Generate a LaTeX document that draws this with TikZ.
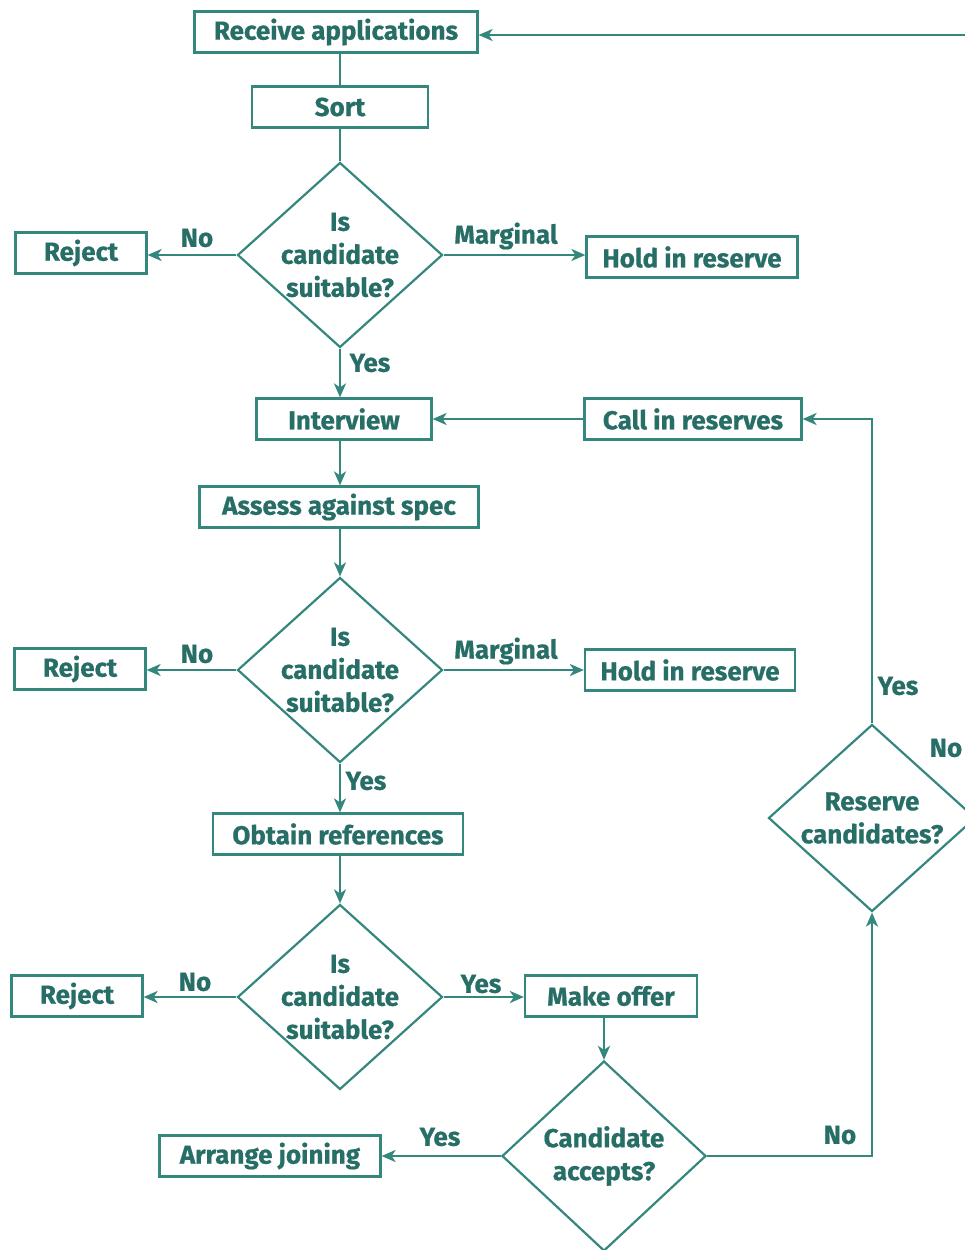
\documentclass[tikz,border=0pt]{standalone}
\usepackage{fontspec}
\setmainfont{Fira Sans}[BoldFeatures={FakeBold=0.6}]
\usetikzlibrary{shapes.geometric,arrows.meta}
\definecolor{flow}{RGB}{52,135,125}
\definecolor{ink}{RGB}{38,110,102}
\begin{document}
\begin{tikzpicture}[x=1pt,y=-1pt,
  txt/.style={text=ink,font=\bfseries\fontsize{26}{33}\selectfont},
  box/.style={txt,draw=flow,line width=2.2pt,minimum height=41pt,inner sep=0pt},
  dia/.style={draw=flow,line width=2.2pt,shape=diamond,minimum width=205pt,minimum height=185pt,inner sep=0pt},
  dtext/.style={txt,align=center},
  lbl/.style={txt,inner sep=0pt},
  conn/.style={draw=flow,line width=2.4pt},
  arr/.style={conn,-{Stealth[length=14pt,width=12pt,inset=4pt]}}]
\useasboundingbox (0,0) rectangle (965,1250);
\clip (0,0) rectangle (965,1250);
\fill[white] (0,0) rectangle (965,1250);

% process boxes
\node[box,minimum width=283pt] (recv) at (336,32) {Receive applications};
\node[box,minimum width=176pt] (sort) at (340,107) {Sort};
\node[box,minimum width=131pt] (rej1) at (81,253) {Reject};
\node[box,minimum width=211pt] (hold1) at (692,257) {Hold in reserve};
\node[box,minimum width=175pt] (intv) at (344,419) {Interview};
\node[box,minimum width=217pt] (call) at (693,419) {Call in reserves};
\node[box,minimum width=279pt] (assess) at (339,507) {Assess against spec};
\node[box,minimum width=131pt] (rej2) at (80,669) {Reject};
\node[box,minimum width=210pt] (hold2) at (690,670) {Hold in reserve};
\node[box,minimum width=250pt] (refs) at (338,834) {Obtain references};
\node[box,minimum width=131pt] (rej3) at (77,996) {Reject};
\node[box,minimum width=172pt] (offer) at (611,996) {Make offer};
\node[box,minimum width=221pt] (join) at (270,1156) {Arrange joining};

% decisions
\node[dia] (d1) at (340,255) {};
\node[dtext] at (d1) {Is\\candidate\\suitable?};
\node[dia] (d2) at (340,670) {};
\node[dtext] at (d2) {Is\\candidate\\suitable?};
\node[dia] (d3) at (340,997) {};
\node[dtext] at (d3) {Is\\candidate\\suitable?};
\node[dia,minimum width=204pt,minimum height=190pt] (d4) at (604,1156) {};
\node[dtext] at (d4) {Candidate\\accepts?};
\node[dia,minimum width=207pt,minimum height=187pt] (d5) at (872,818) {};
\node[dtext] at (d5) {Reserve\\candidates?};

\coordinate (back) at (995,35);

% connectors
\draw[conn] (recv.south -| sort) -- (sort);
\draw[conn] (sort) -- (d1);
\draw[arr] (d1.west) -- (d1.west -| rej1.east);
\draw[arr] (d1.east) -- (d1.east -| hold1.west);
\draw[arr] (d1) -- (intv.north -| d1.south);
\draw[arr] (call) -- (intv);
\draw[arr] (intv.south -| d1.south) -- (assess.north -| d1.south);
\draw[arr] (assess.south -| d2.north) -- (d2);
\draw[arr] (d2.west) -- (d2.west -| rej2.east);
\draw[arr] (d2.east) -- (d2.east -| hold2.west);
\draw[arr] (d2) -- (refs.north -| d2.south);
\draw[arr] (refs.south -| d3.north) -- (d3);
\draw[arr] (d3.west) -- (d3.west -| rej3.east);
\draw[arr] (d3.east) -- (d3.east -| offer.west);
\draw[arr] (offer.south -| d4.north) -- (d4);
\draw[arr] (d4.west) -- (join);
\draw[arr] (d4.east) -| (d5.south);
\draw[arr] (d5.north) |- (call.east);
\draw[arr] (d5.east) -| (back) -- (back -| recv.east);

% branch labels
\node[lbl] at (197,238) {No};
\node[lbl] at (506,236) {Marginal};
\node[lbl] at (370,363) {Yes};
\node[lbl] at (197,654) {No};
\node[lbl] at (506,651) {Marginal};
\node[lbl] at (366,781) {Yes};
\node[lbl] at (195,982) {No};
\node[lbl] at (481,984) {Yes};
\node[lbl] at (440,1137) {Yes};
\node[lbl] at (840,1135) {No};
\node[lbl] at (898,686) {Yes};
\node[lbl] at (946,748) {No};
\end{tikzpicture}
\end{document}
